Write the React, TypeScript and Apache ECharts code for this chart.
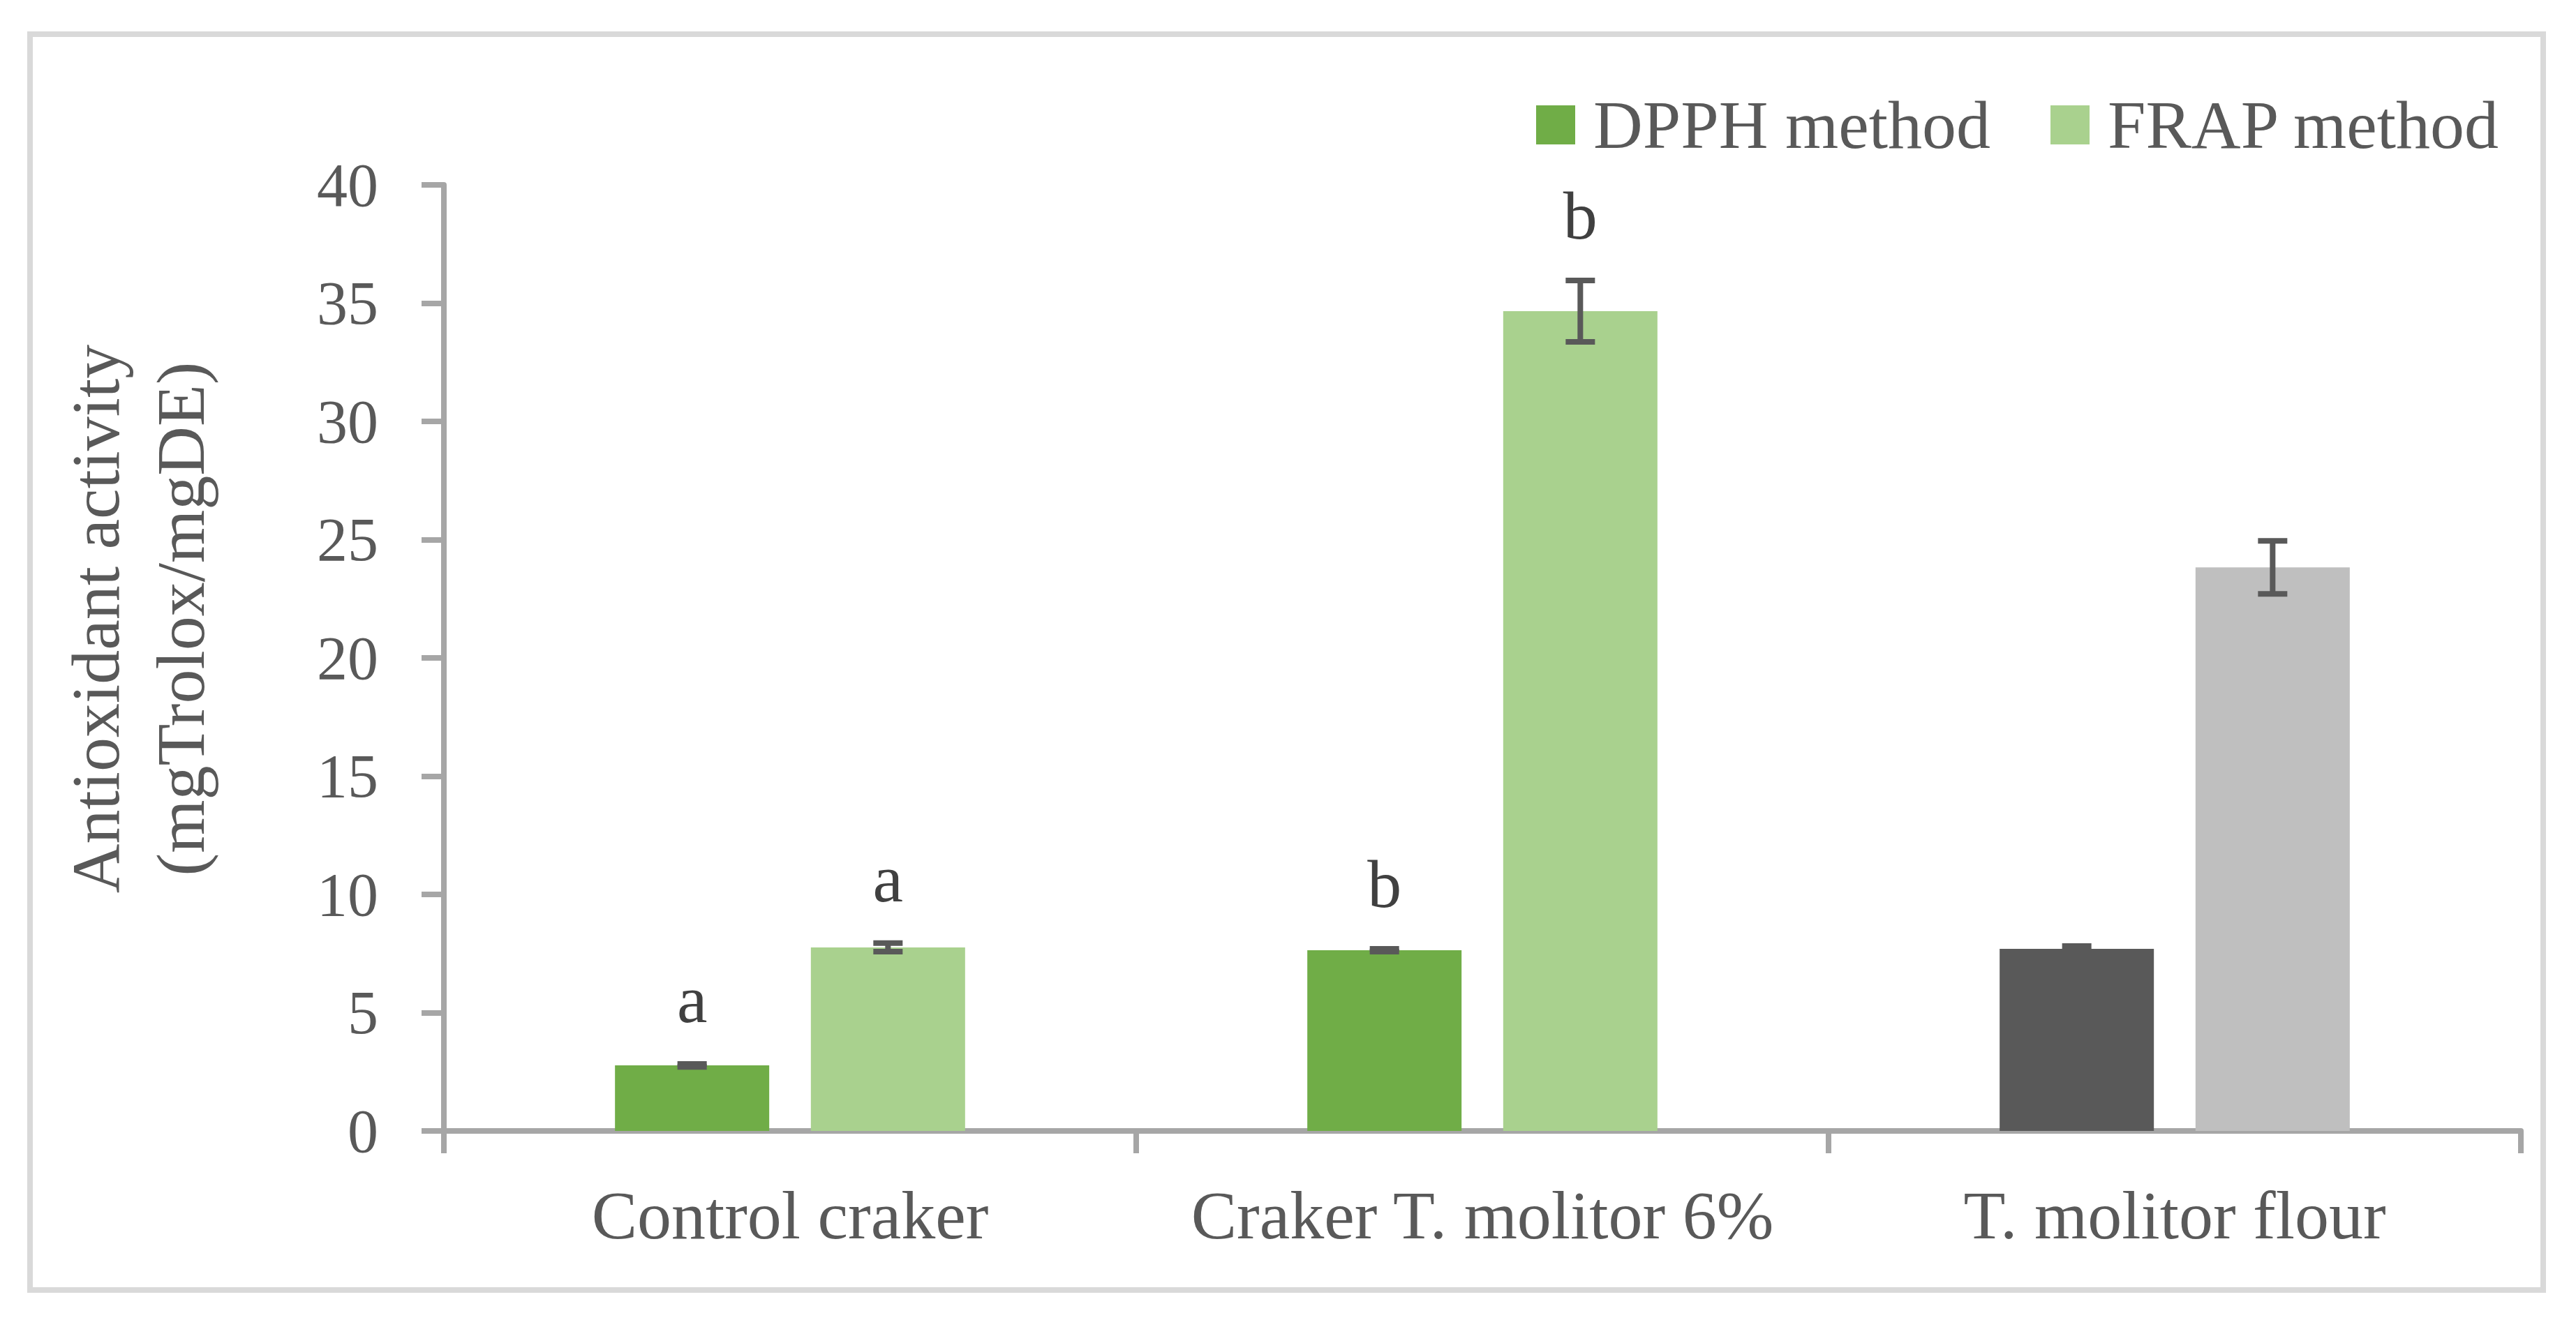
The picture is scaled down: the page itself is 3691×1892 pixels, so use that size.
import { useEffect, useRef } from "react";
import * as echarts from "echarts";

const categories = ["Control craker", "Craker T. molitor 6%", "T. molitor flour"];
const dpphValues = [2.77, 7.64, 7.7];
const dpphErrors = [0.06, 0.06, 0.12];
const frapValues = [7.76, 34.66, 23.83];
const frapErrors = [0.18, 1.3, 1.12];
const dpphLetters = ["a", "b", ""];
const frapLetters = ["a", "b", ""];
const yMin = 0;
const yMax = 40;
const yInterval = 5;
const seriesNames = ["DPPH method", "FRAP method"];
const yTitle = "Antioxidant activity\n(mgTrolox/mgDE)";

const FONT = "Liberation Serif";
const BAR_W = 221;
const BAR_GAP = 0.27;
const GREEN = "#70ad47";
const LIGHT_GREEN = "#a9d18e";
const DARK_GREY = "#595959";
const LIGHT_GREY = "#bfbfbf";

function makeErrorSeries(name: string, values: number[], errors: number[], letters: string[], side: number) {
  return {
    type: "custom",
    name,
    z: 5,
    data: values.map((v, i) => [i, v, errors[i]]),
    renderItem: (params: any, api: any) => {
      const idx = api.value(0);
      const v = api.value(1);
      const e = api.value(2);
      const top = api.coord([idx, v + e]);
      const bot = api.coord([idx, v - e]);
      const x = top[0] + side * (BAR_W + BAR_W * BAR_GAP) / 2;
      const cap = 21;
      const ls = { stroke: DARK_GREY, lineWidth: 8 };
      const children: any[] = [
        { type: "line", shape: { x1: x, y1: top[1], x2: x, y2: bot[1] }, style: ls },
        { type: "line", shape: { x1: x - cap, y1: top[1], x2: x + cap, y2: top[1] }, style: ls },
        { type: "line", shape: { x1: x - cap, y1: bot[1], x2: x + cap, y2: bot[1] }, style: ls },
      ];
      const letter = letters[params.dataIndex];
      if (letter) {
        children.push({
          type: "text",
          x,
          y: top[1] - 44,
          style: {
            text: letter,
            fontFamily: FONT,
            fontSize: 98,
            fill: "#404040",
            align: "center",
            verticalAlign: "bottom",
          },
        });
      }
      return { type: "group", children };
    },
  };
}

export default function App() {
  const ref = useRef<HTMLDivElement>(null);
  useEffect(() => {
    if (!ref.current) return;
    const chart = echarts.init(ref.current, null, { renderer: "svg" });
    chart.setOption({
      animation: false,
      backgroundColor: "#ffffff",
      textStyle: { fontFamily: FONT },
      grid: { left: 636, right: 79, top: 265, bottom: 271, containLabel: false },
      legend: {
        data: seriesNames,
        left: 2196,
        top: 125,
        icon: "rect",
        itemWidth: 56,
        itemHeight: 56,
        itemGap: 86,
        textStyle: { fontFamily: FONT, fontSize: 98, color: "#595959", padding: [0, 0, 0, 21] },
      },
      xAxis: {
        type: "category",
        data: categories,
        axisLine: { lineStyle: { color: "#a6a6a6", width: 8 } },
        axisTick: { show: true, interval: 0, length: 32, lineStyle: { color: "#a6a6a6", width: 8 } },
        axisLabel: { interval: 0, fontFamily: FONT, fontSize: 98, color: "#595959", margin: 72 },
      },
      yAxis: {
        type: "value",
        min: yMin,
        max: yMax,
        interval: yInterval,
        splitLine: { show: false },
        axisLine: { show: true, lineStyle: { color: "#a6a6a6", width: 8 } },
        axisTick: { show: true, length: 32, lineStyle: { color: "#a6a6a6", width: 8 } },
        axisLabel: { fontFamily: FONT, fontSize: 88, color: "#595959", margin: 94 },
      },
      graphic: [
        {
          type: "rect",
          shape: { x: 43, y: 49, width: 3601, height: 1800 },
          style: { fill: "none", stroke: "#d9d9d9", lineWidth: 8 },
          silent: true,
        },
        {
          type: "text",
          x: 198,
          y: 887,
          rotation: Math.PI / 2,
          style: {
            text: yTitle,
            fontFamily: FONT,
            fontSize: 98,
            lineHeight: 122,
            fill: "#595959",
            align: "center",
            verticalAlign: "middle",
          },
        },
      ],
      series: [
        {
          type: "bar",
          name: seriesNames[0],
          barWidth: BAR_W,
          barGap: `${BAR_GAP * 100}%`,
          itemStyle: { color: GREEN },
          data: dpphValues.map((v, i) =>
            i === 2 ? { value: v, itemStyle: { color: DARK_GREY } } : v
          ),
        },
        {
          type: "bar",
          name: seriesNames[1],
          barWidth: BAR_W,
          barGap: `${BAR_GAP * 100}%`,
          itemStyle: { color: LIGHT_GREEN },
          data: frapValues.map((v, i) =>
            i === 2 ? { value: v, itemStyle: { color: LIGHT_GREY } } : v
          ),
        },
        makeErrorSeries("DPPH error", dpphValues, dpphErrors, dpphLetters, -1),
        makeErrorSeries("FRAP error", frapValues, frapErrors, frapLetters, 1),
      ],
    });
    return () => chart.dispose();
  }, []);
  return (
    <div
      ref={ref}
      style={{ position: "fixed", left: 0, top: 0, width: 3691, height: 1892, background: "#fff" }}
    />
  );
}
